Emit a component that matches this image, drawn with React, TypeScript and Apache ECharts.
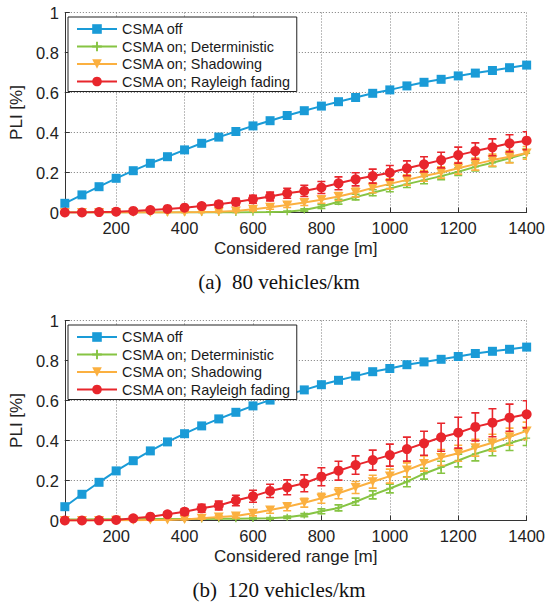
import React, { useEffect, useRef } from 'react';
import * as echarts from 'echarts';

// ---------- data ----------
const ranges = [50, 100, 150, 200, 250, 300, 350, 400, 450, 500, 550, 600, 650, 700, 750, 800, 850, 900, 950, 1000, 1050, 1100, 1150, 1200, 1250, 1300, 1350, 1400];
const xTickValues = [200, 400, 600, 800, 1000, 1200, 1400];
const seriesNames = ['CSMA off', 'CSMA on; Deterministic', 'CSMA on; Shadowing', 'CSMA on; Rayleigh fading'];
const captions = ['(a)  80 vehicles/km', '(b)  120 vehicles/km'];

// (a) 80 vehicles/km
const offA = [0.046, 0.088, 0.129, 0.171, 0.209, 0.246, 0.279, 0.313, 0.346, 0.377, 0.405, 0.433, 0.459, 0.485, 0.509, 0.532, 0.554, 0.575, 0.596, 0.613, 0.633, 0.651, 0.666, 0.683, 0.697, 0.710, 0.724, 0.737];
const detA = [0, 0, 0, 0, 0, 0, 0, 0, 0, 0, 0, 0.001, 0.002, 0.004, 0.012, 0.03, 0.054, 0.077, 0.099, 0.12, 0.142, 0.162, 0.182, 0.204, 0.228, 0.249, 0.271, 0.296];
const detErrA = [0, 0, 0, 0, 0, 0, 0, 0, 0, 0, 0, 0.001, 0.002, 0.003, 0.006, 0.01, 0.012, 0.014, 0.015, 0.016, 0.017, 0.018, 0.018, 0.019, 0.02, 0.02, 0.021, 0.022];
const shA = [0, 0, 0, 0, 0, 0, 0, 0.001, 0.002, 0.004, 0.008, 0.016, 0.026, 0.038, 0.05, 0.064, 0.08, 0.1, 0.123, 0.143, 0.163, 0.183, 0.2, 0.221, 0.242, 0.262, 0.279, 0.298];
const shErrA = [0, 0, 0, 0, 0, 0, 0, 0.001, 0.002, 0.003, 0.005, 0.008, 0.01, 0.013, 0.015, 0.018, 0.02, 0.022, 0.024, 0.025, 0.026, 0.027, 0.028, 0.029, 0.03, 0.03, 0.031, 0.032];
const rayA = [0, 0, 0.002, 0.004, 0.008, 0.012, 0.018, 0.024, 0.032, 0.041, 0.053, 0.066, 0.08, 0.096, 0.108, 0.125, 0.146, 0.166, 0.182, 0.199, 0.221, 0.241, 0.262, 0.287, 0.307, 0.326, 0.346, 0.359];
const rayErrA = [0, 0, 0, 0, 0.003, 0.005, 0.007, 0.01, 0.012, 0.015, 0.018, 0.02, 0.022, 0.025, 0.028, 0.03, 0.032, 0.033, 0.035, 0.036, 0.037, 0.038, 0.039, 0.04, 0.041, 0.042, 0.043, 0.045];

// (b) 120 vehicles/km
const offB = [0.069, 0.131, 0.191, 0.248, 0.299, 0.348, 0.393, 0.434, 0.473, 0.508, 0.541, 0.573, 0.602, 0.628, 0.653, 0.679, 0.701, 0.722, 0.744, 0.760, 0.779, 0.793, 0.806, 0.820, 0.835, 0.846, 0.856, 0.867];
const detB = [0.005, 0.005, 0.006, 0.006, 0.006, 0.007, 0.007, 0.008, 0.008, 0.009, 0.009, 0.01, 0.011, 0.016, 0.027, 0.046, 0.063, 0.094, 0.128, 0.16, 0.194, 0.234, 0.266, 0.3, 0.333, 0.359, 0.386, 0.412];
const detErrB = [0, 0, 0, 0, 0, 0, 0, 0, 0, 0, 0, 0.003, 0.004, 0.006, 0.008, 0.012, 0.015, 0.018, 0.02, 0.022, 0.025, 0.027, 0.03, 0.032, 0.035, 0.035, 0.036, 0.037];
const shB = [0, 0, 0, 0.001, 0.001, 0.002, 0.003, 0.005, 0.011, 0.017, 0.023, 0.036, 0.052, 0.069, 0.089, 0.111, 0.136, 0.165, 0.194, 0.222, 0.252, 0.285, 0.315, 0.336, 0.364, 0.389, 0.419, 0.448];
const shErrB = [0, 0, 0, 0, 0, 0, 0.002, 0.003, 0.005, 0.007, 0.01, 0.013, 0.016, 0.02, 0.022, 0.025, 0.027, 0.03, 0.032, 0.035, 0.036, 0.038, 0.04, 0.04, 0.042, 0.042, 0.043, 0.044];
const rayB = [0, 0, 0.001, 0.003, 0.011, 0.019, 0.031, 0.044, 0.061, 0.075, 0.1, 0.121, 0.148, 0.166, 0.186, 0.219, 0.249, 0.277, 0.302, 0.327, 0.357, 0.386, 0.416, 0.439, 0.468, 0.489, 0.514, 0.531];
const rayErrB = [0, 0, 0, 0.003, 0.005, 0.008, 0.011, 0.015, 0.02, 0.022, 0.026, 0.03, 0.033, 0.037, 0.042, 0.045, 0.047, 0.046, 0.05, 0.055, 0.06, 0.06, 0.07, 0.077, 0.07, 0.07, 0.068, 0.068];

// ---------- styles ----------
const SANS = '"Liberation Sans", Arial, Helvetica, sans-serif';
const SERIF = '"Liberation Serif", "Times New Roman", serif';
const COLORS = ['#1a9bd7', '#86c443', '#fbb040', '#e8262c'];
const PLUS = 'path://M4,0 L6,0 L6,4 L10,4 L10,6 L6,6 L6,10 L4,10 L4,6 L0,6 L0,4 L4,4 Z';

const GRID_TOPS = [12.5, 320.5];
const GRID_H = 200;

function errorSeries(name: string, g: number, vals: number[], errs: number[], color: string, z: number) {
  return {
    type: 'custom',
    name,
    xAxisIndex: g,
    yAxisIndex: g,
    z,
    clip: true,
    silent: true,
    encode: { x: 0, y: 1 },
    data: ranges.map((x, i) => [x, vals[i], errs[i]]),
    renderItem: (params: any, api: any) => {
      const x = api.value(0);
      const y = api.value(1);
      const e = api.value(2);
      const top = api.coord([x, y + e]);
      const bot = api.coord([x, y - e]);
      const hw = 4;
      const st = { stroke: color, lineWidth: 1.6 };
      return {
        type: 'group',
        children: [
          { type: 'line', shape: { x1: top[0], y1: top[1], x2: bot[0], y2: bot[1] }, style: st },
          { type: 'line', shape: { x1: top[0] - hw, y1: top[1], x2: top[0] + hw, y2: top[1] }, style: st },
          { type: 'line', shape: { x1: bot[0] - hw, y1: bot[1], x2: bot[0] + hw, y2: bot[1] }, style: st },
        ],
      };
    },
  };
}

function lineSeries(idx: number, g: number, vals: number[], z: number) {
  const symbols = ['rect', PLUS, 'triangle', 'circle'];
  const sizes: any[] = [9, 7, [10, 9], 10];
  return {
    type: 'line',
    name: seriesNames[idx],
    xAxisIndex: g,
    yAxisIndex: g,
    z,
    data: ranges.map((x, i) => [x, vals[i]]),
    symbol: symbols[idx],
    symbolSize: sizes[idx],
    symbolRotate: idx === 2 ? 180 : 0,
    showSymbol: true,
    showAllSymbol: true,
    clip: true,
    lineStyle: { color: COLORS[idx], width: 2 },
    itemStyle: { color: COLORS[idx], borderWidth: 0 },
    emphasis: { disabled: true },
  };
}

function buildOption() {
  const panels = [
    { off: offA, det: detA, detErr: detErrA, sh: shA, shErr: shErrA, ray: rayA, rayErr: rayErrA },
    { off: offB, det: detB, detErr: detErrB, sh: shB, shErr: shErrB, ray: rayB, rayErr: rayErrB },
  ];
  const grids = GRID_TOPS.map((t) => ({ left: 62, right: 18.6, top: t, height: GRID_H, containLabel: false }));
  const xAxes = GRID_TOPS.map((_, g) => ({
    type: 'value',
    gridIndex: g,
    min: 50,
    max: 1400,
    splitNumber: 7,
    axisLine: { show: true, onZero: false, lineStyle: { color: '#333', width: 1 } },
    axisTick: { show: true, inside: true, length: 5, customValues: xTickValues, lineStyle: { color: '#333' } },
    axisLabel: {
      customValues: xTickValues,
      margin: 7,
      fontSize: 16.5,
      fontFamily: SANS,
      color: '#222',
      formatter: (v: number) => String(v),
    },
    splitLine: { show: true, lineStyle: { type: [1, 2], color: '#7a7a7a', width: 1 } },
    name: 'Considered range [m]',
    nameLocation: 'middle',
    nameGap: 27,
    nameTextStyle: { fontSize: 17, fontFamily: SANS, color: '#222' },
  }));
  const yAxes = GRID_TOPS.map((_, g) => ({
    type: 'value',
    gridIndex: g,
    min: 0,
    max: 1,
    interval: 0.2,
    axisLine: { show: true, onZero: false, lineStyle: { color: '#333', width: 1 } },
    axisTick: { show: true, inside: true, length: 5, lineStyle: { color: '#333' } },
    axisLabel: {
      margin: 6,
      fontSize: 16.5,
      fontFamily: SANS,
      color: '#222',
      formatter: (v: number) => String(Math.round(v * 10) / 10),
    },
    splitLine: { show: true, lineStyle: { type: [1, 2], color: '#7a7a7a', width: 1 } },
    name: 'PLI [%]',
    nameLocation: 'middle',
    nameGap: 36,
    nameTextStyle: { fontSize: 17, fontFamily: SANS, color: '#222' },
  }));
  const series: any[] = [];
  panels.forEach((p, g) => {
    series.push(lineSeries(0, g, p.off, 2));
    series.push(errorSeries('err-det-' + g, g, p.det, p.detErr, COLORS[1], 3));
    series.push(lineSeries(1, g, p.det, 4));
    series.push(errorSeries('err-sh-' + g, g, p.sh, p.shErr, COLORS[2], 5));
    series.push(lineSeries(2, g, p.sh, 6));
    series.push(errorSeries('err-ray-' + g, g, p.ray, p.rayErr, COLORS[3], 7));
    series.push(lineSeries(3, g, p.ray, 8));
  });
  const legends = GRID_TOPS.map((t) => ({
    top: t + 4.5,
    left: 68,
    orient: 'vertical',
    data: seriesNames,
    backgroundColor: '#fff',
    borderColor: '#222',
    borderWidth: 1,
    borderRadius: 0,
    padding: [5, 6, 3, 8],
    itemWidth: 40,
    itemHeight: 12,
    itemGap: 3.5,
    selectedMode: false,
    textStyle: { fontFamily: SANS, fontSize: 14.4, color: '#1a1a1a' },
    z: 20,
  }));
  const graphic = captions.map((c, g) => ({
    type: 'text',
    x: 279,
    y: g === 0 ? 282 : 590,
    z: 30,
    style: {
      text: c,
      font: '21px ' + SERIF,
      fill: '#111',
      textAlign: 'center',
      textVerticalAlign: 'middle',
    },
  }));
  return {
    animation: false,
    backgroundColor: '#fff',
    grid: grids,
    xAxis: xAxes,
    yAxis: yAxes,
    legend: legends,
    series,
    graphic,
  };
}

export default function App() {
  const ref = useRef<HTMLDivElement>(null);
  useEffect(() => {
    document.body.style.margin = '0';
    if (!ref.current) return;
    const chart = echarts.init(ref.current, undefined, { renderer: 'svg' });
    chart.setOption(buildOption() as any);
    return () => chart.dispose();
  }, []);
  return <div ref={ref} style={{ width: 548, height: 603 }} />;
}
